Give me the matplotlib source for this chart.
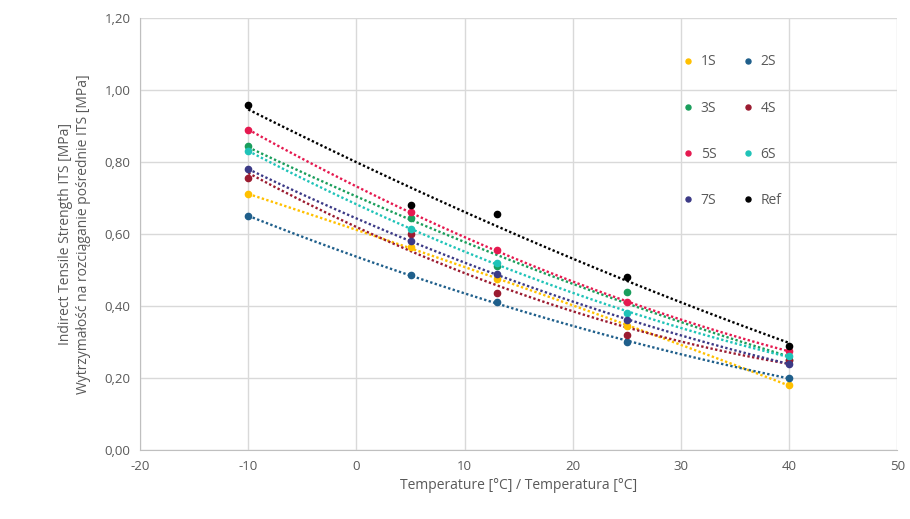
import matplotlib.pyplot as plt
from matplotlib.ticker import FuncFormatter
import numpy as np

plt.rcParams['font.family'] = ['Open Sans', 'DejaVu Sans']
plt.rcParams['axes.unicode_minus'] = False

# Test temperatures [°C]
temps = [-10, 5, 13, 25, 40]

# ITS values [MPa] per mix
its_1s = [0.71, 0.565, 0.475, 0.345, 0.18]
its_2s = [0.65, 0.485, 0.41, 0.30, 0.20]
its_3s = [0.845, 0.645, 0.51, 0.44, 0.25]
its_4s = [0.755, 0.60, 0.435, 0.32, 0.25]
its_5s = [0.89, 0.66, 0.555, 0.41, 0.275]
its_6s = [0.83, 0.615, 0.52, 0.38, 0.26]
its_7s = [0.78, 0.58, 0.49, 0.36, 0.24]
its_ref = [0.96, 0.68, 0.655, 0.48, 0.29]

labels = ["1S", "2S", "3S", "4S", "5S", "6S", "7S", "Ref"]
series = [its_1s, its_2s, its_3s, its_4s, its_5s, its_6s, its_7s, its_ref]
colors = ["#FFC000", "#1F5F8B", "#1A9E5C", "#9B1B30", "#E5194F",
          "#1FC3B8", "#3C3A86", "#000000"]

fig = plt.figure(figsize=(9.1, 5.19), dpi=100)
ax = fig.add_axes([0.154, 0.133, 0.832, 0.832])

x = np.array(temps, dtype=float)
xs = np.linspace(x.min(), x.max(), 100)
handles = []
for lab, vals, col in zip(labels, series, colors):
    y = np.array(vals)
    # 2nd order polynomial trend line
    coef = np.polyfit(x, y, 2)
    ax.plot(xs, np.polyval(coef, xs), color=col, linestyle=(0, (1, 1)),
            linewidth=1.7, zorder=2)
    h, = ax.plot(x, y, linestyle="none", marker="o", markersize=4.5, color=col,
                 label=lab, zorder=3)
    handles.append(h)

ax.set_xlim(-20, 50)
ax.set_ylim(0, 1.2)
ax.set_xticks(range(-20, 51, 10))
ax.set_yticks(np.arange(0, 1.21, 0.2))
ax.yaxis.set_major_formatter(FuncFormatter(lambda v, p: f"{v:.2f}".replace(".", ",")))
ax.grid(True, color="#d9d9d9", linewidth=1)
ax.set_axisbelow(True)
for side in ["top", "right"]:
    ax.spines[side].set_visible(False)
for side in ["left", "bottom"]:
    ax.spines[side].set_color("#bfbfbf")
ax.tick_params(length=0, labelsize=9.5, labelcolor="#595959", pad=7)

ax.set_xlabel("Temperature [°C] / Temperatura [°C]", fontsize=10, color="#595959")
ax.set_ylabel("Indirect Tensile Strength ITS [MPa]\n"
              "Wytrzymałość na rozciąganie pośrednie ITS [MPa]",
              fontsize=10, color="#595959", labelpad=10)

# legend filled row by row: 1S 2S / 3S 4S / ...
order = [0, 2, 4, 6, 1, 3, 5, 7]
leg = ax.legend([handles[i] for i in order], [labels[i] for i in order],
                ncol=2, loc="upper left", bbox_to_anchor=(0.7, 0.945),
                frameon=False, fontsize=10, labelcolor="#595959",
                markerscale=0.8, handlelength=0.8, handletextpad=0.5,
                labelspacing=2.25, columnspacing=1.9)

fig.savefig("out.png", dpi=100, facecolor="white")
